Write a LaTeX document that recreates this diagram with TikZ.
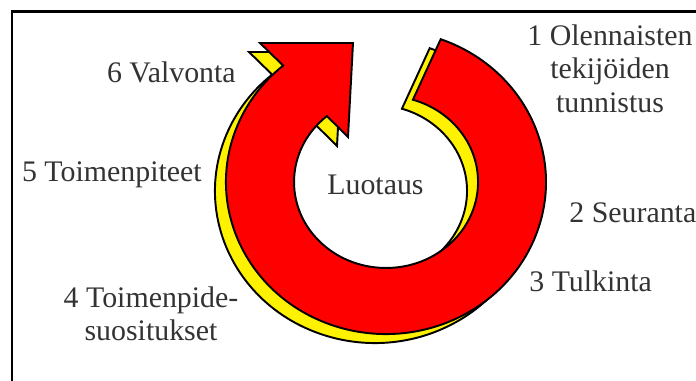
\documentclass[tikz,border=0pt]{standalone}
\usepackage{fontspec}
\setmainfont{Liberation Serif}

\begin{document}
\begin{tikzpicture}[x=0.02cm,y=0.02cm]
  \colorlet{ring}{red}
  \colorlet{ringshade}{yellow}
  \colorlet{txt}{black!80}
  \tikzset{lbl/.style={inner sep=0pt,text=txt,font=\fontsize{17}{19.2}\selectfont}}
  % \ringarrow[extra options]{fill colour}
  \newcommand{\ringarrow}[2][]{%
    \filldraw[fill=#2,line width=1.1pt,line join=miter,#1]
      (260,338) -- (353,338) -- (348,244) -- (326.9,264.9)
      arc[start angle=130,end angle=433,x radius=92,y radius=86]
      -- (440.7,341.8)
      arc[start angle=70,end angle=-230,x radius=160,y radius=152] -- cycle;}

  \useasboundingbox (0,0) rectangle (696,381);
  \clip (0,0) rectangle (696,381);
  \draw[line width=1.7pt] (12,-20) rectangle (720,369);

  % the ring arrow and its shadow
  \ringarrow[shift={(-11,-9)}]{ringshade}
  \ringarrow{ring}

  % the six steps
  \node[lbl,anchor=north,align=center] (l1) at (610,357) {1 Olennaisten\\tekijöiden\\tunnistus};
  \node[lbl,anchor=base west] (l2) at (569,158) {2 Seuranta};
  \node[lbl,anchor=base west] (l3) at (529,89) {3 Tulkinta};
  \node[lbl,anchor=north,align=center] (l4) at (151,95) {4 Toimenpide-\\suositukset};
  \node[lbl,anchor=base east] (l5) at (202,199) {5 Toimenpiteet};
  \node[lbl,anchor=base east] (l6) at (236,298) {6 Valvonta};
  \node[lbl,anchor=base west] (luotaus) at (327,186) {Luotaus};
\end{tikzpicture}
\end{document}
